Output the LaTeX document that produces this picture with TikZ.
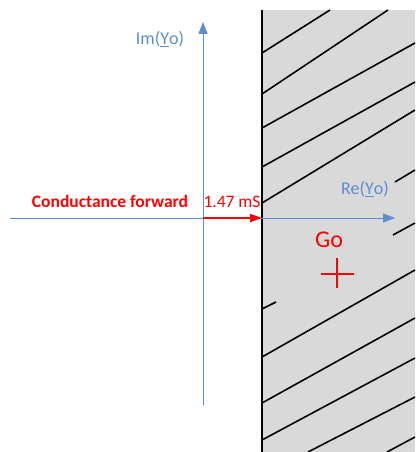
\documentclass[tikz,border=0pt]{standalone}
\usepackage{fontspec}
\setmainfont{Carlito}
\usepackage{xcolor}
\usetikzlibrary{arrows.meta,calc}
\definecolor{axisblue}{RGB}{91,142,206}
\definecolor{signred}{RGB}{255,0,0}
\definecolor{wallgray}{RGB}{217,217,217}
\tikzset{
  axis/.style  = {draw=axisblue, line width=1pt, -{Triangle[length=12pt, width=9pt]}},
  fwd/.style   = {draw=signred, line width=1.3pt, -{Triangle[length=12pt, width=8pt]}},
  hatch/.style = {draw=black, line width=1.6pt},
  alabel/.style = {text=axisblue, font=\fontsize{18}{21}\selectfont, inner sep=0pt},
  rlabel/.style = {text=signred, font=\fontsize{17.5}{21}\selectfont, inner sep=0pt},
}

\begin{document}
\begin{tikzpicture}[x=1pt, y=-1pt]
\useasboundingbox (0,0) rectangle (415,452);

% forbidden region (Re < Go) with hatching
\fill[wallgray] (262,10) rectangle (415,452);
\foreach \xa/\ya/\xb/\yb in {262/53/330/10, 262/94/388/10, 262/128/415/43,
    262/167/415/82, 262/203/415/110, 395/182/415/170, 262/309/276/302,
    393/235/415/223, 262/357/415/270, 262/403/415/318, 262/440/415/358,
    308/452/415/397, 387/452/415/437}{%
  \draw[hatch] (\xa,\ya) -- (\xb,\yb);}
\draw[black, line width=1.3pt] (262,10) -- (262,452);

% axes
\coordinate (origin) at (203,218);
\coordinate (west) at (10,218);
\coordinate (east) at (395,218);
\coordinate (south) at (203,405);
\coordinate (north) at (203,22);
\coordinate (wall) at (262,218);
\draw[axis] (west) -- (east);
\draw[axis] (south) -- (north);
\draw[fwd] (origin) -- (wall);

% labels
\node[alabel] (im) at (160,39) {Im(\underline{Y}o)};
\node[alabel] (re) at (365,189) {Re(\underline{Y}o)};
\node[rlabel, font=\fontsize{17.5}{21}\selectfont\bfseries] (cond) at (110,201) {Conductance forward};
\node[rlabel] (val) at (232,202) {1.47 mS};
\node[rlabel, font=\fontsize{24}{28}\selectfont] (go) at (329,240) {Go};

% Go marker
\coordinate (gomark) at (337,274);
\draw[signred, line width=1.3pt] ($(gomark)+(-16,0)$) -- ($(gomark)+(17,0)$);
\draw[signred, line width=1.3pt] ($(gomark)+(0,-16)$) -- ($(gomark)+(0,14)$);
\end{tikzpicture}
\end{document}
